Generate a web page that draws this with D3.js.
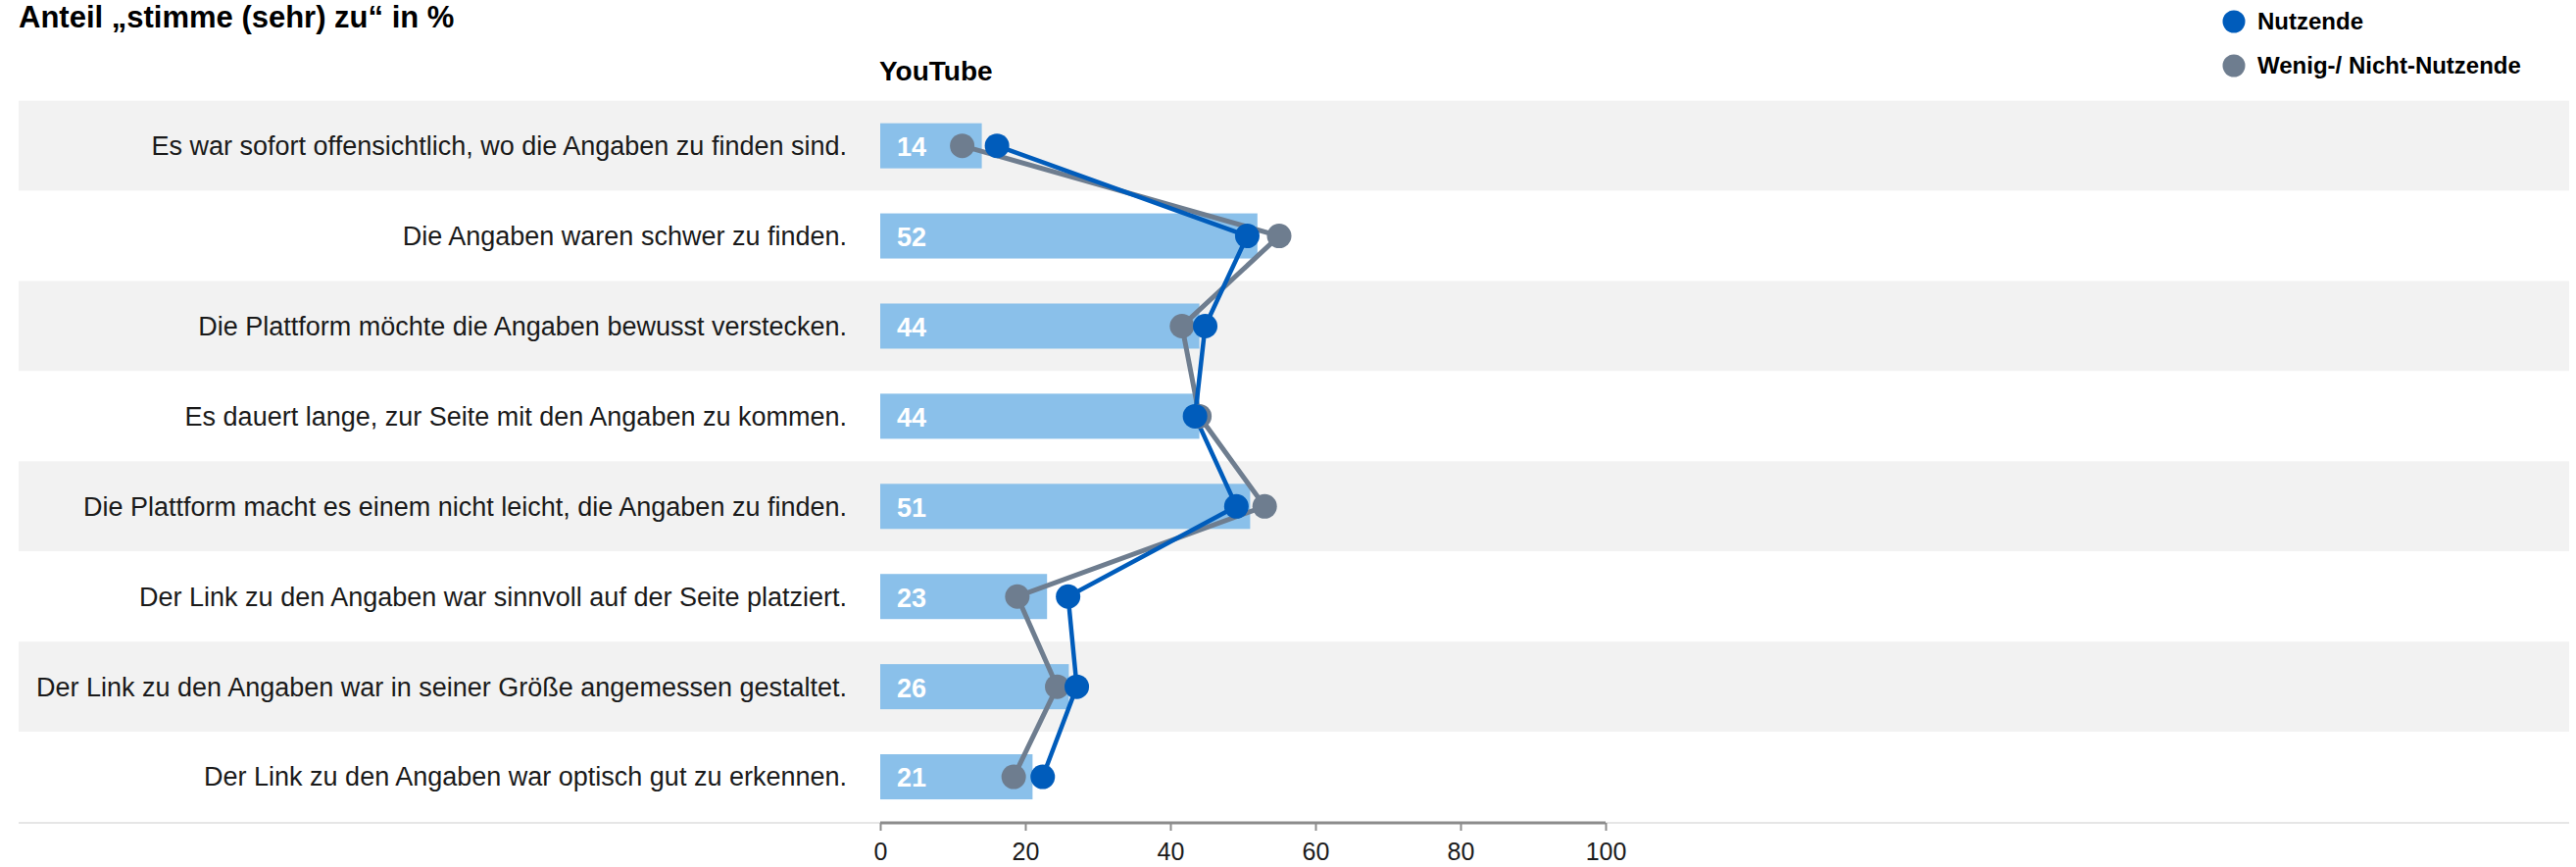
<!DOCTYPE html>
<html><head><meta charset="utf-8">
<script src="https://cdn.jsdelivr.net/npm/d3@7"></script>
<style>html,body{margin:0;padding:0;background:#fff;}svg{display:block;}</style>
</head><body>
<svg id="chart" width="2628" height="884"></svg>
<script>
const categories = [
  "Es war sofort offensichtlich, wo die Angaben zu finden sind.",
  "Die Angaben waren schwer zu finden.",
  "Die Plattform möchte die Angaben bewusst verstecken.",
  "Es dauert lange, zur Seite mit den Angaben zu kommen.",
  "Die Plattform macht es einem nicht leicht, die Angaben zu finden.",
  "Der Link zu den Angaben war sinnvoll auf der Seite platziert.",
  "Der Link zu den Angaben war in seiner Größe angemessen gestaltet.",
  "Der Link zu den Angaben war optisch gut zu erkennen."
];
const totalValues = [14, 52, 44, 44, 51, 23, 26, 21];
const nutzendeValues = [16.1, 50.6, 44.8, 43.4, 49.1, 25.9, 27.1, 22.4];
const wenigNichtValues = [11.3, 55.0, 41.6, 44.0, 53.0, 18.9, 24.4, 18.4];
const xTicks = [0, 20, 40, 60, 80, 100];
const seriesNames = ["Nutzende", "Wenig-/ Nicht-Nutzende"];
const panelTitle = "YouTube";
const chartTitle = "Anteil „stimme (sehr) zu“ in %";

const svg = d3.select("#chart");
const labelFont = "'Liberation Sans', Arial, sans-serif";
const boldFont = "'Liberation Sans', Arial, sans-serif";
const colBar = "#8AC0EA", colBlue = "#005CBB", colGray = "#6E7D8F", colBand = "#F2F2F2";

const x = d3.scaleLinear().domain([0, 100]).range([898, 1638]);
const yBand = d3.scaleBand().domain(categories).range([102.7, 838]).paddingInner(0).paddingOuter(0);
const yc = c => yBand(c) + yBand.bandwidth() / 2;

// bands
svg.append("g").selectAll("rect").data(categories).join("rect")
  .attr("x", 19).attr("width", 2621 - 19)
  .attr("y", d => yBand(d)).attr("height", yBand.bandwidth())
  .attr("fill", (d, i) => i % 2 === 0 ? colBand : "#ffffff");

// bottom light rule
svg.append("line").attr("x1", 19).attr("x2", 2621).attr("y1", 839).attr("y2", 839)
  .attr("stroke", "#E6E6E6").attr("stroke-width", 2);

// title
svg.append("text").attr("x", 19).attr("y", 28).text(chartTitle)
  .attr("font-family", boldFont).attr("font-weight", "bold").attr("font-size", 31).attr("fill", "#000");

svg.append("text").attr("x", 897).attr("y", 82).text(panelTitle)
  .attr("font-family", boldFont).attr("font-weight", "bold").attr("font-size", 28).attr("fill", "#000");

// category labels
svg.append("g").selectAll("text").data(categories).join("text")
  .attr("x", 864).attr("y", d => yc(d)).attr("dy", "0.35em")
  .attr("text-anchor", "end").attr("font-family", labelFont).attr("font-size", 27).attr("fill", "#1a1a1a")
  .text(d => d);

// bars
const bars = categories.map((c, i) => ({c, v: totalValues[i]}));
svg.append("g").selectAll("rect").data(bars).join("rect")
  .attr("x", x(0)).attr("width", d => x(d.v) - x(0))
  .attr("y", d => yc(d.c) - 23).attr("height", 46)
  .attr("fill", colBar);
svg.append("g").selectAll("text").data(bars).join("text")
  .attr("x", x(0) + 17).attr("y", d => yc(d.c) + 1).attr("dy", "0.35em")
  .attr("font-family", boldFont).attr("font-weight", "bold").attr("font-size", 27).attr("fill", "#fff")
  .text(d => d.v);

// axis
const axis = d3.axisBottom(x).tickValues(xTicks).tickSize(8).tickPadding(12);
const gAxis = svg.append("g").attr("transform", "translate(0,839)").call(axis);
gAxis.select(".domain").attr("stroke", "#8C8C8C").attr("stroke-width", 3).attr("d", `M${x(0)},0H${x(100)}`);
gAxis.selectAll(".tick line").attr("stroke", "#8C8C8C").attr("stroke-width", 2);
gAxis.selectAll(".tick text").attr("font-family", labelFont).attr("font-size", 25).attr("fill", "#1a1a1a");

// lines and dots
const line = d3.line().x(d => x(d.v)).y(d => yc(d.c));
const grayPts = categories.map((c, i) => ({c, v: wenigNichtValues[i]}));
const bluePts = categories.map((c, i) => ({c, v: nutzendeValues[i]}));
svg.append("path").datum(grayPts).attr("d", line).attr("fill", "none").attr("stroke", colGray).attr("stroke-width", 5);
svg.append("path").datum(bluePts).attr("d", line).attr("fill", "none").attr("stroke", colBlue).attr("stroke-width", 4.5);
svg.append("g").selectAll("circle").data(grayPts).join("circle")
  .attr("cx", d => x(d.v)).attr("cy", d => yc(d.c)).attr("r", 12.5).attr("fill", colGray);
svg.append("g").selectAll("circle").data(bluePts).join("circle")
  .attr("cx", d => x(d.v)).attr("cy", d => yc(d.c)).attr("r", 12.5).attr("fill", colBlue);

// legend
const leg = svg.append("g");
seriesNames.forEach((n, i) => {
  const cy = 22 + i * 45;
  leg.append("circle").attr("cx", 2279).attr("cy", cy).attr("r", 11.5).attr("fill", i === 0 ? colBlue : colGray);
  leg.append("text").attr("x", 2303).attr("y", cy).attr("dy", "0.35em").text(n)
    .attr("font-family", boldFont).attr("font-weight", "bold").attr("font-size", 24).attr("fill", "#000");
});
</script>
</body></html>
